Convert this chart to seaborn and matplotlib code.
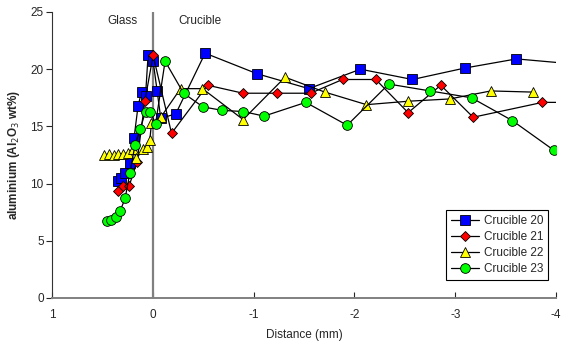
import matplotlib
matplotlib.use("Agg")
import matplotlib.pyplot as plt
import seaborn as sns
import pandas as pd
from matplotlib.lines import Line2D

# --- data (distance in mm, Al2O3 wt%) ---
c20_x = [0.350, 0.317, 0.278, 0.228, 0.186, 0.146, 0.112, 0.072, 0.047, -0.003, -0.043, -0.079,
         -0.228, -0.519, -1.035, -1.548, -2.06, -2.576, -3.095, -3.608, -4.12]
c20_y = [10.2, 10.5, 10.9, 11.8, 14.0, 16.8, 18.0, 17.7, 21.2, 20.7, 18.1, 15.7,
         16.1, 21.4, 19.6, 18.3, 20.0, 19.1, 20.1, 20.9, 20.5]

c21_x = [0.350, 0.295, 0.235, 0.156, 0.079, -0.003, -0.186, -0.543, -0.896, -1.233, -1.565,
         -1.882, -2.212, -2.533, -2.857, -3.178, -3.866, -4.2]
c21_y = [9.35, 9.8, 9.8, 11.9, 17.2, 21.2, 14.4, 18.6, 17.9, 17.9, 17.9,
         19.1, 19.1, 16.2, 18.6, 15.8, 17.1, 17.1]

c22_x = [0.483, 0.434, 0.387, 0.344, 0.295, 0.245, 0.201, 0.162, 0.096, 0.057, 0.030, 0.013,
         -0.079, -0.275, -0.493, -0.896, -1.312, -1.706, -2.12, -2.533, -2.946, -3.353, -3.767]
c22_y = [12.5, 12.6, 12.5, 12.6, 12.6, 12.7, 13.0, 12.2, 13.0, 13.2, 13.8, 15.3,
         15.8, 18.3, 18.3, 15.6, 19.3, 18.0, 16.9, 17.2, 17.4, 18.1, 18.0]

c23_x = [0.459, 0.417, 0.367, 0.324, 0.275, 0.228, 0.176, 0.126, 0.072, 0.023, -0.027, -0.122,
         -0.305, -0.499, -0.691, -0.896, -1.104, -1.518, -1.928, -2.341, -2.751, -3.162,
         -3.568, -3.981, -4.39]
c23_y = [6.7, 6.8, 7.1, 7.6, 8.7, 10.9, 13.4, 14.75, 16.3, 16.3, 15.2, 20.7,
         17.9, 16.7, 16.4, 16.3, 15.9, 17.1, 15.1, 18.7, 18.1, 17.5,
         15.5, 12.9, 16.0]

series_names = ["Crucible 20", "Crucible 21", "Crucible 22", "Crucible 23"]
x_ticks = [1, 0, -1, -2, -3, -4]
y_ticks = [0, 5, 10, 15, 20, 25]

styles = [
    dict(marker="s", mfc="#0000FF", ms=6.5),
    dict(marker="D", mfc="#FF0000", ms=4.8),
    dict(marker="^", mfc="#FFFF00", ms=6.5),
    dict(marker="o", mfc="#00FF00", ms=7.0),
]

sns.set_style("ticks")
plt.rcParams["font.family"] = ["Liberation Sans", "DejaVu Sans"]

fig = plt.figure(figsize=(5.61, 3.47), dpi=100)
ax = fig.add_axes([52 / 561, 1 - 298 / 347, (556 - 52) / 561, (298 - 12) / 347])

ax.axvline(0, color="#808080", lw=1.6, zorder=1)

datasets = [(c20_x, c20_y), (c21_x, c21_y), (c22_x, c22_y), (c23_x, c23_y)]
handles = []
for i, ((xs, ys), name, st) in enumerate(zip(datasets, series_names, styles)):
    df = pd.DataFrame({"x": xs, "y": ys})
    sns.lineplot(data=df, x="x", y="y", ax=ax, sort=False, estimator=None,
                 color="black", lw=0.9, marker=st["marker"],
                 markerfacecolor=st["mfc"], markeredgecolor="black",
                 markeredgewidth=0.6, markersize=st["ms"], zorder=3 + i)
    handles.append(Line2D([0], [0], color="black", lw=0.9, marker=st["marker"],
                          markerfacecolor=st["mfc"], markeredgecolor="black",
                          markeredgewidth=0.6, markersize=st["ms"]))

ax.set_xlim(1, -4)
ax.set_ylim(0, 25)
ax.set_xticks(x_ticks)
ax.set_yticks(y_ticks)
ax.set_xticklabels([str(t) for t in x_ticks], fontsize=8.5)
ax.set_yticklabels([str(t) for t in y_ticks], fontsize=8.5)
ax.tick_params(axis="x", direction="in", length=4, width=0.8, pad=8)
ax.tick_params(axis="y", direction="out", length=4, width=0.8, pad=2)
for s in ["top", "right"]:
    ax.spines[s].set_visible(False)
ax.spines["left"].set_color("#333333")
ax.spines["left"].set_linewidth(0.8)
ax.spines["bottom"].set_color("#808080")
ax.spines["bottom"].set_linewidth(1.4)

ax.set_xlabel("Distance (mm)", fontsize=8.5, labelpad=6)
ax.set_ylabel("aluminium (Al$_2$O$_3$ wt%)", fontsize=8.5, fontweight="bold", labelpad=6)

ax.text(0.3, 24.2, "Glass", fontsize=8.5, ha="center", va="center")
ax.text(-0.47, 24.2, "Crucible", fontsize=8.5, ha="center", va="center")

leg = ax.legend(handles, series_names, loc="lower right", bbox_to_anchor=(0.984, 0.063),
                borderaxespad=0, fontsize=8.5, frameon=True, fancybox=False, framealpha=1,
                edgecolor="black", handlelength=2.4, handletextpad=0.4,
                borderpad=0.4, labelspacing=0.35)
leg.get_frame().set_linewidth(0.8)

fig.savefig("out.png", dpi=100)
